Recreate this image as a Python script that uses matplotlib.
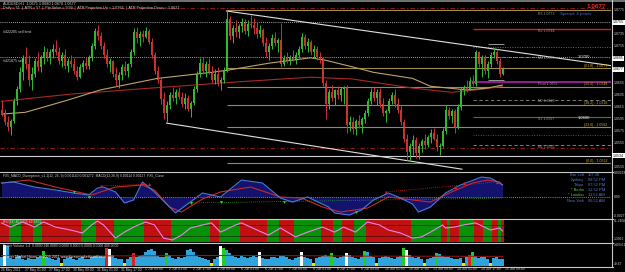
import matplotlib
matplotlib.use("Agg")
import matplotlib.pyplot as plt
from matplotlib.lines import Line2D
from matplotlib.patches import Rectangle
import numpy as np

plt.rcParams["font.family"] = ["Liberation Sans", "DejaVu Sans"]

W, H = 625, 272

# ---- AUDUSD H1 chart, drawn as H2 candles; prices in pips above 1.0500 ----
OPEN_P = [110, 105, 90, 82, 92, 125, 145, 172, 195, 185, 160, 170, 190, 180, 195, 205, 195, 205, 210, 205,
          190, 200, 182, 190, 185, 175, 165, 180, 188, 183, 195, 215, 240, 232, 215, 200, 185, 190, 170, 160,
          168, 180, 175, 185, 205, 238, 228, 235, 230, 240, 222, 200, 175, 160, 128, 105, 118, 135, 130, 140,
          132, 120, 130, 112, 122, 145, 170, 188, 175, 185, 172, 160, 170, 155, 160, 175, 260, 232, 245, 238,
          248, 255, 240, 252, 250, 245, 235, 242, 220, 205, 215, 228, 220, 225, 185, 195, 190, 198, 192, 200,
          210, 230, 215, 222, 205, 210, 198, 195, 155, 120, 140, 130, 142, 135, 145, 148, 85, 90, 78, 92,
          85, 95, 105, 125, 140, 130, 140, 120, 105, 108, 125, 135, 120, 110, 90, 62, 40, 50, 60, 38,
          50, 58, 52, 65, 72, 62, 48, 50, 75, 110, 100, 108, 80, 115, 142, 148, 145, 158, 152, 205,
          185, 195, 175, 185, 200, 205, 190, 170]
HIGH_P = [126, 112, 100, 95, 130, 150, 180, 200, 214, 200, 180, 195, 205, 200, 215, 212, 210, 218, 225, 214,
          205, 210, 195, 200, 195, 182, 185, 192, 197, 200, 220, 245, 250, 238, 222, 210, 195, 192, 180, 172,
          185, 190, 188, 210, 245, 247, 240, 242, 247, 244, 228, 205, 182, 165, 140, 125, 140, 147, 145, 148,
          140, 138, 135, 125, 150, 175, 195, 197, 190, 195, 182, 178, 180, 165, 180, 273, 265, 250, 258, 252,
          262, 260, 258, 267, 262, 255, 250, 245, 230, 220, 235, 238, 228, 253, 200, 205, 200, 209, 205, 215,
          237, 235, 228, 225, 217, 215, 205, 198, 160, 145, 151, 145, 150, 148, 150, 151, 100, 98, 95, 101,
          98, 110, 130, 146, 148, 145, 146, 130, 112, 130, 140, 145, 130, 118, 95, 70, 55, 68, 65, 55,
          62, 70, 68, 78, 80, 70, 55, 80, 118, 115, 112, 112, 120, 148, 151, 160, 165, 167, 209, 208,
          200, 200, 190, 205, 212, 210, 195, 180]
LOW_P = [100, 85, 75, 68, 88, 118, 140, 160, 178, 150, 143, 165, 175, 172, 185, 190, 185, 195, 200, 185,
         180, 178, 172, 180, 170, 159, 162, 172, 178, 178, 190, 210, 225, 210, 195, 180, 172, 165, 150, 146,
         160, 168, 165, 180, 200, 220, 215, 222, 228, 218, 195, 170, 155, 120, 95, 90, 112, 125, 120, 128,
         115, 112, 108, 98, 118, 140, 165, 170, 165, 170, 155, 152, 150, 143, 155, 172, 225, 220, 230, 228,
         238, 235, 232, 245, 235, 228, 230, 215, 198, 192, 210, 215, 205, 180, 182, 188, 184, 190, 186, 195,
         205, 210, 205, 200, 195, 192, 188, 150, 95, 112, 125, 118, 128, 125, 120, 72, 75, 70, 68, 80,
         72, 88, 100, 120, 125, 118, 115, 100, 90, 105, 120, 115, 105, 85, 57, 27, 25, 35, 30, 28,
         40, 45, 48, 55, 60, 42, 35, 48, 70, 95, 88, 72, 78, 110, 135, 140, 142, 150, 150, 180,
         165, 170, 162, 180, 195, 185, 165, 168]
CLOSE_P = [105, 90, 82, 92, 125, 145, 172, 195, 185, 160, 170, 190, 180, 195, 205, 195, 205, 210, 205, 190,
           200, 182, 190, 185, 175, 165, 180, 188, 183, 195, 215, 240, 232, 215, 200, 185, 190, 170, 160, 168,
           180, 175, 185, 205, 238, 228, 235, 230, 240, 222, 200, 175, 160, 128, 105, 118, 135, 130, 140, 132,
           120, 130, 112, 122, 145, 170, 188, 175, 185, 172, 160, 170, 155, 160, 175, 260, 232, 245, 238, 248,
           255, 240, 252, 250, 245, 235, 242, 220, 205, 215, 228, 220, 225, 185, 195, 190, 198, 192, 200, 210,
           230, 215, 222, 205, 210, 198, 195, 155, 120, 140, 130, 142, 135, 145, 148, 85, 90, 78, 92, 85,
           95, 105, 125, 140, 130, 140, 120, 105, 108, 125, 135, 120, 110, 90, 62, 40, 50, 60, 38, 50,
           58, 52, 65, 72, 62, 48, 50, 75, 110, 100, 108, 80, 115, 142, 148, 145, 158, 152, 205, 185,
           195, 175, 185, 200, 205, 190, 170, 177]

# moving averages (bar index, pips)
MA_SLOW_X = [0, 8, 22, 33, 52, 70, 76, 89, 103, 108, 117, 124, 137, 143, 155, 162, 167]
MA_SLOW_P = [103, 106, 126, 143, 162, 172, 176, 187, 196, 192, 181, 172, 162, 149, 143, 146, 151]
MA_RED_X = [0, 23, 50, 78, 103, 117, 137, 150, 160, 167]
MA_RED_P = [124, 136, 146, 156, 164, 161, 146, 139, 144, 149]

# trend lines (bar index, price)
UPPER_TL = ([75, 203], [1.07733, 1.06832])
LOWER_TL = ([55, 153.5], [1.05881, 1.05120])

# fibonacci retracement drawn from the 7 Jun high
FIB_LEVELS = [1.0775, 1.06784, 1.06485, 1.06186, 1.05817, 1.0522]
FIB_LABELS = ["", "(61.8) - 1.0677", "(50.0) - 1.0648", "(38.2) - 1.0618", "(23.6) - 1.0582", "(0.0) - 1.0522"]

PRICE_TICKS = [1.0775, 1.0755, 1.0735, 1.0715, 1.0695, 1.0675, 1.0655, 1.0635, 1.0615, 1.0595,
               1.0575, 1.0555, 1.0535, 1.0515]
BOXED_PRICES = [1.0755, 1.0695, 1.0677, 1.0534]

# MACD (units of 1e-4)
MACD_X = [0, 4, 11, 18, 24, 29, 32, 34, 38, 41, 44, 47, 51, 58, 67, 73, 80, 87, 93, 97, 102, 109, 111,
          116, 120, 124, 129, 133, 137, 139, 143, 148, 153, 160, 163, 166, 167]
MACD_V = [13.6, 14.6, 9.7, 6.8, 3.9, 1.9, 8.7, 9.7, 4.9, -5.8, -2.9, 14.6, 4.9, -15.5, 3.9, 0.0, 16.5,
          13.6, -1.0, -4.9, 0.0, -9.7, -15.5, -17.5, -12.6, -2.9, 3.9, -1.0, -6.8, -14.6, -9.7, 3.9, 11.7,
          19.4, 18.4, 13.6, 11.7]
SIGNAL_X = [0, 9, 18, 30, 38, 47, 51, 56, 60, 67, 73, 83, 93, 100, 107, 113, 122, 129, 137, 143, 150,
            157, 162, 166, 167]
SIGNAL_V = [13.6, 16.5, 9.7, 1.9, 9.7, 11.7, 6.8, -9.7, -14.6, -1.9, 4.9, 9.7, 0.0, -1.0, -9.7, -14.6,
            -10.7, 0.0, -2.9, -4.9, 4.9, 13.6, 16.5, 14.6, 11.7]
DIV_UP_X = [33, 47, 49, 128, 151, 154, 165]
DIV_UP_V = [10.7, 13.6, 12.6, 4.9, 9.7, 13.6, 14.6]
DIV_DN_X = [24, 29, 63, 73, 94, 118]
DIV_DN_V = [4.9, 0.0, -5.8, -4.9, -4.9, -14.6]

# oscillator panel
RSI_X = [0, 3, 7, 11, 14, 18, 23, 27, 30, 32, 34, 38, 41, 44, 48, 51, 54, 57, 60, 63, 67, 70, 73, 78,
         80, 83, 89, 93, 98, 102, 107, 111, 114, 118, 122, 126, 129, 133, 137, 140, 143, 147, 148, 151,
         154, 158, 161, 163, 166, 167]
RSI_V = [83, 65, 87, 65, 87, 65, 52, 39, 74, 91, 74, 17, 43, 65, 87, 74, 17, 9, 30, 61, 74, 83, 43, 74,
         83, 65, 30, 61, 22, 43, 65, 43, 65, 43, 87, 74, 52, 39, 17, 22, 43, 74, 61, 65, 74, 83, 65, 52,
         61, 48]
BAND_EDGES = [0, 3, 7, 11, 14, 27, 32, 38, 48, 57, 70, 73, 80, 89, 93, 98, 107, 111, 114, 118, 122, 137,
              147, 149, 150, 153, 158, 161, 164, 166, 167, 168]
BAND_COLORS = ["r", "g", "r", "g", "r", "g", "r", "g", "r", "g", "r", "g", "r", "g", "r", "g", "r", "g",
               "r", "g", "r", "g", "r", "g", "r", "g", "r", "g", "r", "g", "r"]

# better volume
VOLUME = [40, 90, 85, 35, 30, 38, 42, 30, 28, 35, 32, 30, 38, 45, 65, 40, 35, 30, 28, 33,
          15, 30, 35, 40, 30, 28, 35, 38, 30, 32, 40, 45, 50, 42, 38, 80, 75, 50, 35, 30,
          32, 15, 30, 40, 55, 38, 42, 50, 60, 70, 72, 65, 45, 40, 38, 55, 50, 35, 30, 38,
          35, 40, 70, 72, 60, 45, 40, 35, 30, 28, 15, 32, 40, 85, 80, 70, 55, 45, 40, 35,
          42, 38, 35, 40, 45, 38, 60, 35, 30, 32, 38, 40, 35, 42, 45, 38, 30, 28, 35, 40,
          60, 38, 35, 30, 15, 35, 40, 42, 50, 45, 55, 40, 35, 38, 42, 55, 50, 38, 35, 30,
          40, 65, 60, 45, 38, 15, 35, 40, 42, 38, 35, 32, 38, 45, 80, 70, 50, 40, 35, 38,
          32, 15, 30, 35, 40, 55, 52, 45, 40, 38, 35, 32, 30, 35, 15, 38, 50, 60, 45, 35,
          40, 38, 30, 15, 35, 38, 32, 30]
VOLUME_SPECIAL = {1: "w", 14: "g", 20: "y", 35: "r", 36: "w", 41: "y", 44: "r", 55: "g", 70: "y",
                  73: "w", 74: "g", 86: "w", 100: "w", 104: "y", 110: "g", 115: "w", 121: "g", 125: "y",
                  134: "g", 135: "w", 141: "y", 145: "g", 154: "y", 156: "r", 157: "g", 163: "y"}
VOL_MA_X = [0, 40, 80, 120, 167]
VOL_MA_V = [45, 44, 46, 43, 42]

TIME_LABELS = ["26 May 2011", "27 May 01:00", "27 May 17:00", "30 May 09:00", "31 May 01:00",
               "31 May 17:00", "1 Jun 09:00", "2 Jun 01:00", "2 Jun 17:00", "3 Jun 09:00", "6 Jun 01:00",
               "6 Jun 17:00", "7 Jun 09:00", "8 Jun 01:00", "8 Jun 17:00", "9 Jun 09:00", "10 Jun 01:00",
               "10 Jun 17:00", "13 Jun 09:00", "14 Jun 01:00", "14 Jun 17:00", "15 Jun 09:00"]

SESSIONS = ["Bar Left", "Sydney", "Tokyo", "* Berlin", "* London", "New York"]
SESSION_TIMES = ["107:38", "08:52 PM", "07:52 PM", "12:52 PM", "11:52 AM", "06:52 AM"]
SESSION_OPEN = [False, False, False, True, True, False]

COLORS = {"b": "#2ea4dc", "g": "#22cc22", "r": "#dd2020", "y": "#e8e800", "w": "#ffffff"}


def pips(v):
    return 1.05 + np.asarray(v, dtype=float) / 1e4


fig = plt.figure(figsize=(W / 100, H / 100), dpi=100, facecolor="black")


def px_axes(y0, y1):
    ax = fig.add_axes([0, 1 - y1 / H, 611 / W, (y1 - y0) / H])
    ax.set_facecolor("black")
    ax.set_xlim(-0.5, 611 / 3 - 0.5)
    ax.set_xticks([])
    ax.set_yticks([])
    for s in ax.spines.values():
        s.set_visible(False)
    return ax


def ftext(x, y, s, color="#d0d0d0", size=2.7, ha="left", **kw):
    fig.text(x / W, 1 - y / H, s, color=color, fontsize=size, ha=ha, va="center", **kw)


def price_y(p):
    return 10 + (1.0775 - p) / 0.0001654


# ---------------- main price panel ----------------
ax = px_axes(0, 171)
ax.set_ylim(1.0509, 1.07915)
x = np.arange(len(CLOSE_P))
o, h, l, c = pips(OPEN_P), pips(HIGH_P), pips(LOW_P), pips(CLOSE_P)
cols = np.where(c >= o, "#33bb33", "#cc3333")

# full-width order / stop lines
ax.axhline(1.07783, color="#8b1a1a", lw=0.8, ls=(0, (4, 2, 1, 2)))
ax.axhline(1.0755, color="#d8d8d8", lw=0.6, ls=(0, (1, 1.5)))
ax.axhline(1.06973, color="#d8d8d8", lw=0.6, ls=(0, (1, 1.5)))
ax.axhline(1.05467, color="#8b1a1a", lw=0.8, ls=(0, (4, 2, 1, 2)))
ax.axhline(1.0534, color="#d0d0d0", lw=0.8)

# fibonacci lines
ax.hlines(FIB_LEVELS, 75, 204, color="#9c8a4c", lw=0.8)

# daily pivot set
x0 = 157.2
ax.hlines(1.07436, x0, 204, color="#d02020", lw=1.0)
ax.hlines(1.07139, x0, 204, color="#2a9a2a", lw=0.7, ls=(0, (1, 1.5)))
ax.hlines(1.06973, x0, 180, color="#909090", lw=0.6, ls=(0, (4, 3)))
ax.hlines(1.06559, x0, 204, color="#c020c0", lw=1.1)
ax.hlines(1.06261, x0, 204, color="#909090", lw=0.6, ls=(0, (4, 3)))
ax.hlines(1.05980, x0, 204, color="#2a8a2a", lw=0.8)
ax.hlines(1.05683, x0, 204, color="#c02020", lw=0.7, ls=(0, (1, 1.5)))
ax.hlines(1.05517, x0, 204, color="#909090", lw=0.6, ls=(0, (4, 3)))
ax.hlines([1.07188, 1.06592], 162, 167.5, color="#b0b0b0", lw=0.6)

# moving averages
ax.plot(MA_RED_X, pips(MA_RED_P), color="#a82828", lw=0.8)
ax.plot(MA_SLOW_X, pips(MA_SLOW_P), color="#bca468", lw=0.8)

# trend lines
ax.plot(*UPPER_TL, color="#e0e0e0", lw=0.8)
ax.plot(*LOWER_TL, color="#e0e0e0", lw=0.8)

# candles
ax.vlines(x, l, h, colors=cols, lw=0.7)
ax.bar(x, np.maximum(np.abs(c - o), 0.00004), bottom=np.minimum(o, c), width=0.6, color=cols, lw=0)

# ---------------- MACD panel ----------------
axm = px_axes(172, 218)
axm.set_ylim(-20.4, 24.3)
axm.fill_between(MACD_X, 0, MACD_V, color="#13136e", lw=0)
axm.axhline(0, color="#b0b0b0", lw=0.6, ls=(0, (1, 1.5)))
axm.plot([33, 49], [10.7, 12.6], color="#d02020", lw=0.6, ls=(0, (1, 1.5)))
axm.plot([128, 165], [4.9, 14.6], color="#d02020", lw=0.6, ls=(0, (1, 1.5)))
axm.plot([63, 167], [-5.8, -1.0], color="#2a9a2a", lw=0.6, ls=(0, (1, 1.5)))
axm.plot(SIGNAL_X, SIGNAL_V, color="#c82828", lw=0.8)
axm.plot(MACD_X, MACD_V, color="#4a78d8", lw=0.8)
axm.scatter(DIV_UP_X, DIV_UP_V, marker="^", s=5, color="#e02020", lw=0, zorder=5)
axm.scatter(DIV_DN_X, DIV_DN_V, marker="v", s=5, color="#30c030", lw=0, zorder=5)

# ---------------- oscillator panel ----------------
axr = px_axes(219, 242)
axr.set_ylim(0, 100)
for a, b, cc in zip(BAND_EDGES[:-1], BAND_EDGES[1:], BAND_COLORS):
    axr.axvspan(a - 0.5, b - 0.5, color="#c01010" if cc == "r" else "#089008", lw=0)
axr.axhline(75, color="#000000", lw=0.5, alpha=0.6)
axr.axhline(25, color="#000000", lw=0.5, alpha=0.6)
axr.plot(RSI_X, RSI_V, color="#ea84ea", lw=0.8)

# ---------------- volume panel ----------------
axv = px_axes(243, 266)
axv.set_ylim(0, 100)
vcols = [COLORS[VOLUME_SPECIAL.get(i, "b")] for i in range(len(VOLUME))]
axv.bar(np.arange(len(VOLUME)), VOLUME, width=0.7, color=vcols, lw=0)
axv.plot(VOL_MA_X, VOL_MA_V, color="#a01818", lw=0.7)

# ---------------- frame lines ----------------
for yy in (171.5, 218.5, 242.5, 266.5):
    fig.add_artist(Line2D([0, 613 / W], [1 - yy / H] * 2, color="#c8c8c8", lw=0.8))
fig.add_artist(Line2D([611.5 / W] * 2, [1 - 266.5 / H, 1], color="#c8c8c8", lw=0.8))
fig.add_artist(Rectangle((0, 1 - 1.5 / H), 1, 1.5 / H, transform=fig.transFigure, color="#707070", lw=0))

# ---------------- texts ----------------
ftext(3, 3.5, "AUDUSD,H1  1.0671 1.0680 1.0670 1.0677")
ftext(3, 8.5, "Daily = 51  |  ATR = 57  |  Pip Value = 9.99  |  ATR Projection Up = 1.0766  |  "
      "ATR Projection Down = 1.0621")
ftext(3, 32, "#422285 sell limit", size=2.6)
ftext(3, 61, "#421875 sell", size=2.6)
ftext(596, 6.5, "1.0677", color="#ff2020", size=4.6, ha="center", weight="bold")
ftext(576, 14.5, "Spread: 4 points", color="#3a6ad0", size=3.2, ha="center")
for yy, s in [(14, "R3 1.0773"), (31, "R2 1.0744"), (58, "M4 1.0699"), (84, "Pivot 1.0656"),
              (101, "M2 1.0626"), (119, "S1 1.0597"), (147, "M1 1.0551")]:
    ftext(538, yy, s, color="#9a9a9a", size=2.5)
ftext(578, 57.5, "1.0700", color="#f0f0f0", size=3.0)
ftext(578, 118, "1.0600", color="#f0f0f0", size=3.0)
for lev, s in zip(FIB_LEVELS, FIB_LABELS):
    if s:
        ftext(607, price_y(lev) - 2, s, color="#d4b030", size=2.5, ha="right")

for p in PRICE_TICKS:
    if any(abs(p - b) < 0.0004 for b in BOXED_PRICES):
        continue
    ftext(614, price_y(p), f"{p:.4f}", size=2.5)
for p in BOXED_PRICES:
    ftext(613, price_y(p), f"{p:.4f}", color="black", size=2.5,
          bbox=dict(boxstyle="square,pad=0.15", fc="white", ec="none"))

ftext(3, 175.5, "FX5_MACD_Divergence_v1.1(12, 26, 9) 0.001140 0.001272  MACD(12,26,9) 0.00114 0.00127  "
      "FX5_Close", size=2.4)
ftext(614, 173.5, "0.00233", size=2.4)
ftext(614, 197, "0.00", size=2.4)
ftext(614, 216, "-0.0027", size=2.4)
for i, (nm, tm, op) in enumerate(zip(SESSIONS, SESSION_TIMES, SESSION_OPEN)):
    yy = 174.5 + i * 5.2
    col = "#72c040" if op else "#5578c0"
    ftext(584, yy, nm, color=col, size=2.9, ha="right")
    ftext(588, yy, tm, color="#5578c0", size=2.9)

ftext(3, 222, "RSI(14) 46.5715 49.3431", size=2.4)
ftext(614, 221.5, "81.2456", size=2.4)
ftext(614, 239.5, "1.3962", size=2.4)

ftext(3, 246, "Better Volume 1.4  0.0000 246.0000 0.0000 0.0000 0.0000 0.0000 400.0000", size=2.4)
ftext(5, 257, "Forex Market Hours  \u00a9 2009-2011 www.forexmarkethours.com", color="#f0f0f0", size=2.6)
ftext(614, 245.5, "1409.61", size=2.4)
ftext(614, 264, "49.67", size=2.4)

for k, s in enumerate(TIME_LABELS):
    xp = 3 * (8 * k) + 1
    ftext(xp, 269.5, s, size=2.4)

fig.savefig("out.png", dpi=100, facecolor="black")
